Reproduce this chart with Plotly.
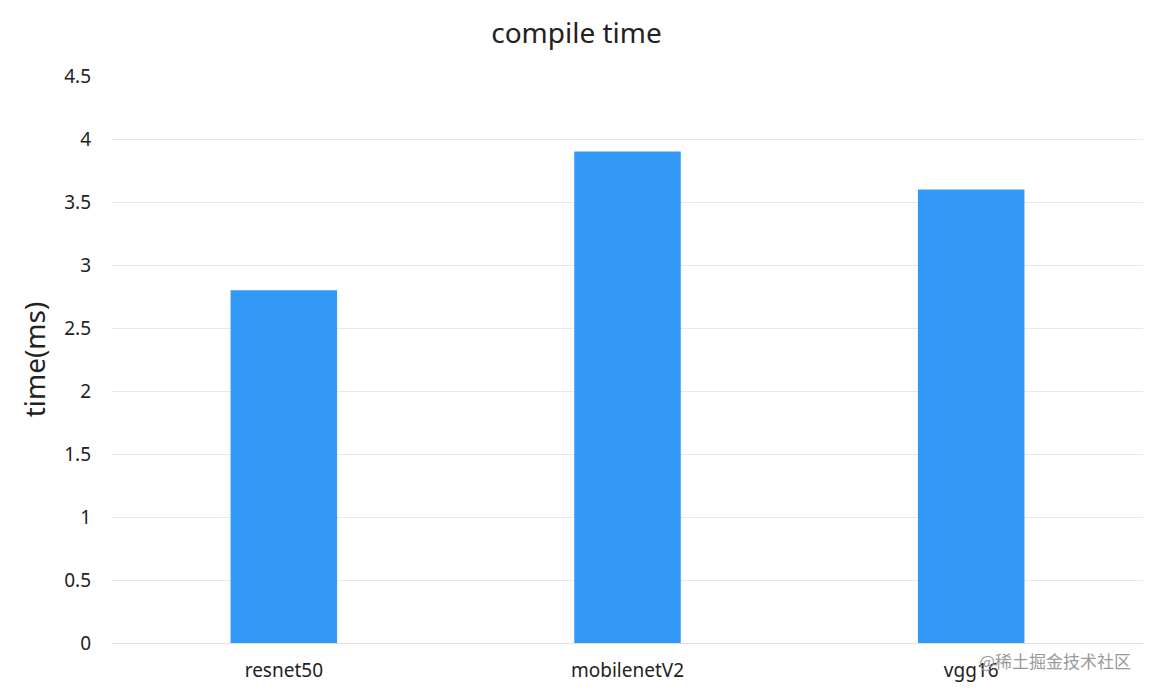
import plotly.graph_objects as go

models = ["resnet50", "mobilenetV2", "vgg16"]
compile_time = [2.8, 3.9, 3.6]
y_ticks = [0, 0.5, 1, 1.5, 2, 2.5, 3, 3.5, 4, 4.5]
y_tick_text = ["0", "0.5", "1", "1.5", "2", "2.5", "3", "3.5", "4", "4.5"]

fig = go.Figure(go.Bar(x=models, y=compile_time, marker=dict(color="#3399F6", line=dict(width=0))))

fig.update_layout(
    width=1137, height=677,
    margin=dict(l=104, r=2, t=68, b=38),
    paper_bgcolor="white", plot_bgcolor="white",
    bargap=0.69,
    font=dict(family="Noto Sans, Open Sans, sans-serif", color="#222222", size=19),
    title=dict(text="compile time", x=0.5, xanchor="center", y=0.963, yanchor="middle",
               font=dict(size=28, color="#222222")),
    showlegend=False,
)
fig.update_xaxes(showgrid=False, showline=True, linecolor="#e0e0e0", linewidth=1,
                 tickfont=dict(size=19, color="#222222"), ticks="", ticklabelstandoff=10)
fig.update_yaxes(range=[0, 4.5], tickvals=y_ticks, ticktext=y_tick_text,
                 showgrid=True, gridcolor="#e8e8e8", gridwidth=1, zeroline=False,
                 tickfont=dict(size=19, color="#222222"), ticks="", ticklabelstandoff=20,
                 title=dict(text="time(ms)", font=dict(size=28, color="#222222"), standoff=10))
fig.add_annotation(text="@稀土掘金技术社区", xref="paper", yref="paper", x=1.0, y=0,
                   xanchor="right", yanchor="middle", xshift=-10, yshift=-17, showarrow=False,
                   font=dict(family="Noto Sans CJK SC", size=17, color="#9a9a9a"))

fig.write_html("out.html")
